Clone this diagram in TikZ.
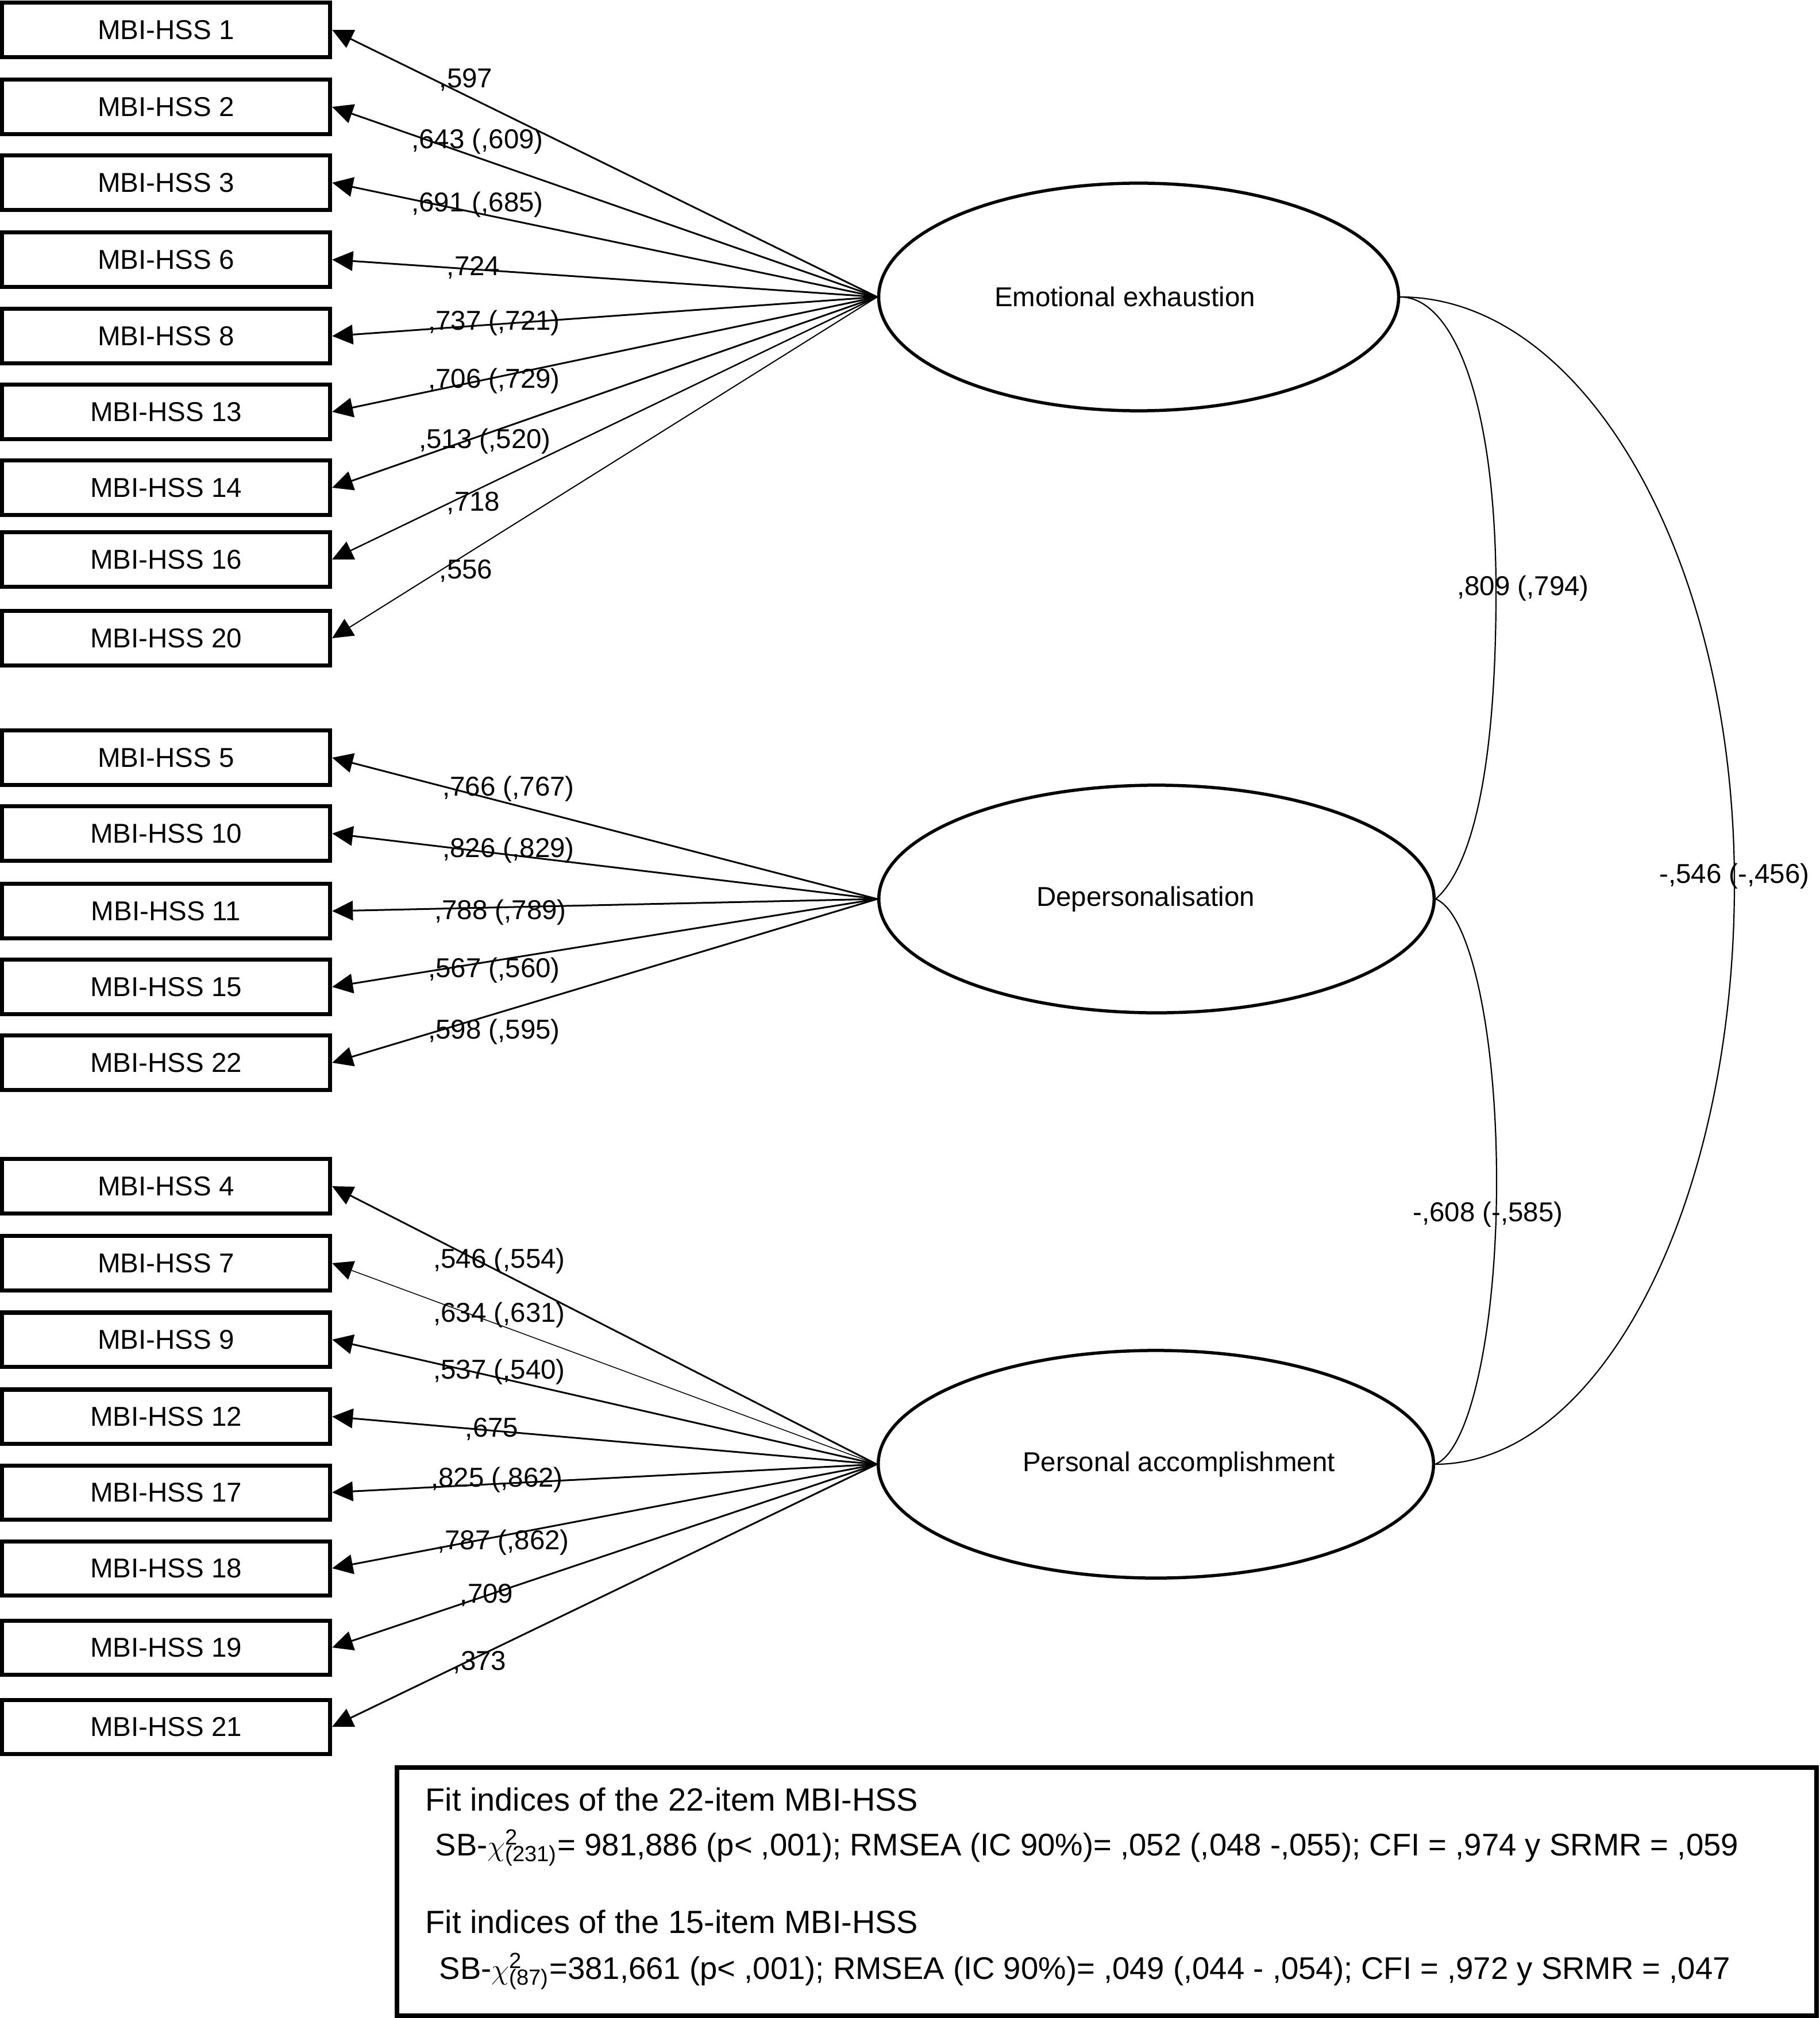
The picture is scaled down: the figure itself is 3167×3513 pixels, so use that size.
\documentclass[tikz,border=0pt]{standalone}
\usepackage{fontspec}
\setmainfont{Liberation Sans}
\usetikzlibrary{arrows.meta,shapes.geometric}
\newcommand\semfont{\fontsize{13.5pt}{16pt}\selectfont}
\newcommand\semfitfont{\fontsize{15.9pt}{19pt}\selectfont}
\newcommand\semsbfont{\fontsize{15.5pt}{19pt}\selectfont}
\begin{document}
\begin{tikzpicture}[x=0.01cm,y=-0.01cm,
  item/.style={draw,line width=0.07cm,minimum width=5.71cm,minimum height=0.94cm,inner sep=0pt,font=\semfont},
  factor/.style={draw,ellipse,line width=0.055cm,inner sep=0pt,minimum height=3.96cm},
  load/.style={line width=0.03cm,-{Triangle[length=0.36cm,width=0.34cm]}},
  coef/.style={inner sep=0pt,font=\semfont},
  corr/.style={line width=0.022cm},
  fitline/.style={inner sep=0pt,anchor=base west,font=\semfitfont},
  sbline/.style={inner sep=0pt,anchor=base west,font=\semsbfont}]
\useasboundingbox (0,0) rectangle (3167,3513);

% observed items
\node[item] (i1)  at (289,52)   {MBI-HSS 1};
\node[item] (i2)  at (289,186)  {MBI-HSS 2};
\node[item] (i3)  at (289,318)  {MBI-HSS 3};
\node[item] (i6)  at (289,452)  {MBI-HSS 6};
\node[item] (i8)  at (289,585)  {MBI-HSS 8};
\node[item] (i13) at (289,717)  {MBI-HSS 13};
\node[item] (i14) at (289,849)  {MBI-HSS 14};
\node[item] (i16) at (289,974)  {MBI-HSS 16};
\node[item] (i20) at (289,1111) {MBI-HSS 20};
\node[item] (i5)  at (289,1319) {MBI-HSS 5};
\node[item] (i10) at (289,1451) {MBI-HSS 10};
\node[item] (i11) at (289,1586) {MBI-HSS 11};
\node[item] (i15) at (289,1718) {MBI-HSS 15};
\node[item] (i22) at (289,1850) {MBI-HSS 22};
\node[item] (i4)  at (289,2065) {MBI-HSS 4};
\node[item] (i7)  at (289,2199) {MBI-HSS 7};
\node[item] (i9)  at (289,2332) {MBI-HSS 9};
\node[item] (i12) at (289,2466) {MBI-HSS 12};
\node[item] (i17) at (289,2598) {MBI-HSS 17};
\node[item] (i18) at (289,2730) {MBI-HSS 18};
\node[item] (i19) at (289,2868) {MBI-HSS 19};
\node[item] (i21) at (289,3006) {MBI-HSS 21};

% latent factors
\node[factor,minimum width=9.045cm,label={[font=\semfont,xshift=-0.24cm]center:Emotional exhaustion}] (ee) at (1982,517) {};
\node[factor,minimum width=9.66cm,label={[font=\semfont,xshift=-0.19cm]center:Depersonalisation}] (dp) at (2013,1565) {};
\node[factor,minimum width=9.66cm,label={[font=\semfont,xshift=0.40cm]center:Personal accomplishment}] (pa) at (2012,2549) {};

% loadings
\foreach \t in {i1,i2,i3,i6,i8,i13,i14} \draw[load] (ee.west) -- (\t.east);
\draw[load,line width=0.025cm] (ee.west) -- (i16.east);
\draw[load,line width=0.02cm] (ee.west) -- (i20.east);
\foreach \t in {i5,i10,i11,i15,i22} \draw[load] (dp.west) -- (\t.east);
\draw[load] (pa.west) -- (i4.east);
\draw[load,line width=0.015cm] (pa.west) -- (i7.east);
\foreach \t in {i9,i12,i17,i18,i19,i21} \draw[load] (pa.west) -- (\t.east);

% loading labels
\node[coef] (c1)  at (811,139)  {,597};
\node[coef] (c2)  at (831,246)  {,643 (,609)};
\node[coef] (c3)  at (831,356)  {,691 (,685)};
\node[coef] (c6)  at (824,466)  {,724};
\node[coef] (c8)  at (860,562)  {,737 (,721)};
\node[coef] (c13) at (860,663)  {,706 (,729)};
\node[coef] (c14) at (844,768)  {,513 (,520)};
\node[coef] (c16) at (824,876)  {,718};
\node[coef] (c20) at (811,994)  {,556};
\node[coef] (c5)  at (885,1373) {,766 (,767)};
\node[coef] (c10) at (885,1480) {,826 (,829)};
\node[coef] (c11) at (871,1588) {,788 (,789)};
\node[coef] (c15) at (860,1689) {,567 (,560)};
\node[coef] (c22) at (860,1796) {,598 (,595)};
\node[coef] (c4)  at (869,2195) {,546 (,554)};
\node[coef] (c7)  at (869,2289) {,634 (,631)};
\node[coef] (c9)  at (869,2388) {,537 (,540)};
\node[coef] (c12) at (856,2488) {,675};
\node[coef] (c17) at (865,2576) {,825 (,862)};
\node[coef] (c18) at (876,2685) {,787 (,862)};
\node[coef] (c19) at (847,2777) {,709};
\node[coef] (c21) at (835,2894) {,373};

% correlations
\draw[corr] (ee.east) .. controls (2530,517) and (2604,700) .. (2604,1030)
  .. controls (2604,1400) and (2545,1525) .. (dp.east);
\draw[corr] (dp.east) .. controls (2560,1590) and (2605,1800) .. (2605,2057)
  .. controls (2605,2310) and (2560,2525) .. (pa.east);
\draw[corr] (ee.east) .. controls (2759,517) and (3019,974) .. (3019,1538)
  .. controls (3019,2096) and (2786,2549) .. (pa.east);
\node[coef] (r1) at (2651,1024) {,809 (,794)};
\node[coef] (r2) at (3019,1525) {-,546 (-,456)};
\node[coef] (r3) at (2590,2114) {-,608 (-,585)};

% fit indices box
\node[draw,line width=0.08cm,minimum width=24.69cm,minimum height=4.32cm,inner sep=0pt] (fitbox) at (1926.5,3293) {};
\node[fitline] (f1) at (740,3152) {Fit indices of the 22-item MBI-HSS};
\node[sbline] (f2) at (757,3230) {SB-$\chi$\rlap{\textsuperscript{2}}\textsubscript{(231)}= 981,886 (p< ,001); RMSEA (IC 90\%)= ,052 (,048 -,055); CFI = ,974 y SRMR = ,059};
\node[fitline] (f3) at (740,3365) {Fit indices of the 15-item MBI-HSS};
\node[sbline] (f4) at (764,3445) {SB-$\chi$\rlap{\textsuperscript{2}}\textsubscript{(87)}=381,661 (p< ,001); RMSEA (IC 90\%)= ,049 (,044 - ,054); CFI = ,972 y SRMR = ,047};
\end{tikzpicture}
\end{document}
